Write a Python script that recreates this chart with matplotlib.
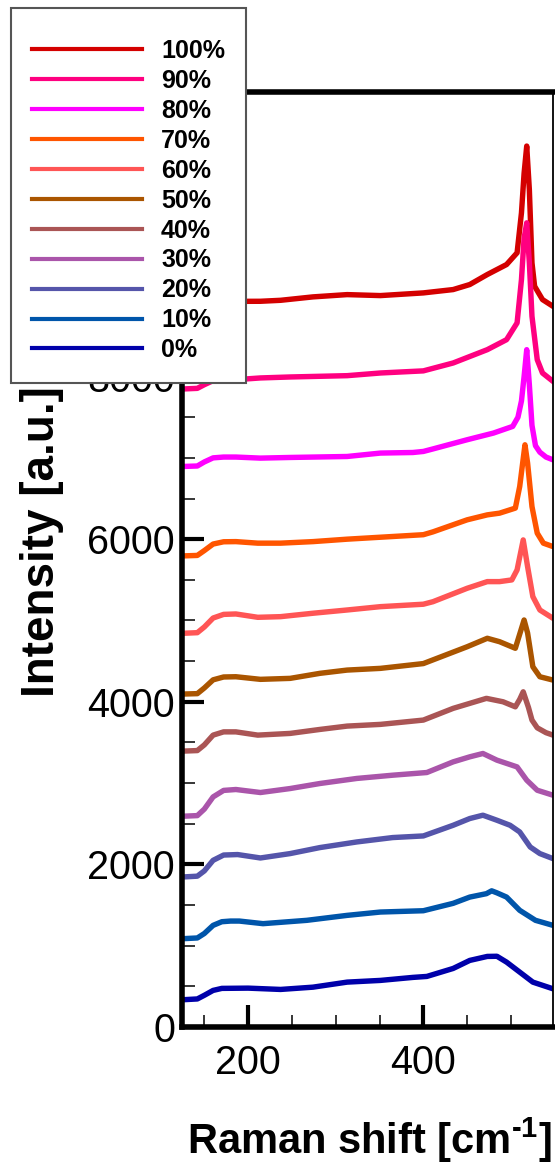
import matplotlib
matplotlib.use("Agg")
import matplotlib.pyplot as plt
from matplotlib.ticker import MultipleLocator

plt.rcParams['font.family'] = ['Liberation Sans', 'DejaVu Sans']
plt.rcParams['mathtext.fontset'] = 'custom'
plt.rcParams['mathtext.rm'] = 'Liberation Sans:bold'
plt.rcParams['mathtext.bf'] = 'Liberation Sans:bold'

labels = ['100%', '90%', '80%', '70%', '60%', '50%', '40%', '30%', '20%', '10%', '0%']
colors = ['#D40000', '#FF0080', '#FF00FF', '#FF5500', '#FF5555', '#AA5500',
          '#AA5555', '#AA55AA', '#5555AA', '#0055AA', '#0000AA']

# spectra (Raman shift in cm-1, intensity in a.u.)
x_100 = [125, 142, 150, 160, 172, 186, 214, 237, 274, 313, 351, 400, 434, 453, 473, 495, 507, 512, 515, 518, 521, 524, 527, 536, 548]
y_100 = [8800, 8810, 8850, 8900, 8920, 8925, 8926, 8938, 8980, 9008, 8996, 9029, 9070, 9132, 9255, 9378, 9522, 10014, 10500, 10835, 10300, 9399, 9111, 8947, 8864]

x_90 = [125, 142, 150, 160, 172, 186, 214, 248, 313, 351, 400, 434, 473, 495, 507, 512, 515, 518, 521, 524, 530, 536, 548]
y_90 = [7847, 7855, 7900, 7950, 7962, 7962, 7983, 7995, 8011, 8044, 8070, 8167, 8331, 8454, 8660, 9193, 9700, 9891, 9400, 8741, 8208, 8044, 7941]

x_80 = [125, 142, 150, 160, 172, 186, 214, 248, 313, 351, 388, 400, 411, 450, 480, 502, 508, 512, 515, 518, 521, 524, 528, 533, 540, 548]
y_80 = [6894, 6900, 6950, 7000, 7010, 7010, 6997, 7005, 7017, 7059, 7066, 7079, 7110, 7223, 7305, 7387, 7500, 7700, 8000, 8331, 7900, 7400, 7150, 7070, 7010, 6976]

x_70 = [125, 142, 150, 160, 172, 186, 211, 237, 274, 313, 351, 400, 411, 450, 473, 487, 505, 510, 516, 519, 524, 530, 537, 548]
y_70 = [5794, 5800, 5860, 5940, 5968, 5970, 5951, 5951, 5970, 6000, 6024, 6055, 6090, 6238, 6299, 6320, 6382, 6648, 7161, 6936, 6401, 6074, 5951, 5909]

x_60 = [125, 142, 150, 160, 172, 186, 211, 237, 274, 313, 351, 400, 411, 450, 473, 487, 501, 507, 514, 519, 525, 533, 548]
y_60 = [4842, 4850, 4920, 5030, 5075, 5080, 5039, 5047, 5089, 5129, 5170, 5200, 5231, 5396, 5478, 5478, 5499, 5622, 5991, 5662, 5293, 5129, 5027]

x_50 = [125, 142, 150, 160, 172, 186, 214, 248, 282, 313, 351, 400, 450, 473, 487, 505, 515, 519, 525, 533, 548]
y_50 = [4095, 4100, 4170, 4270, 4305, 4308, 4276, 4288, 4350, 4390, 4411, 4470, 4677, 4781, 4739, 4658, 5006, 4846, 4431, 4308, 4267]

x_40 = [125, 142, 150, 160, 172, 186, 211, 248, 282, 313, 351, 400, 434, 472, 491, 505, 510, 514, 520, 524, 530, 540, 548]
y_40 = [3393, 3400, 3470, 3590, 3630, 3630, 3590, 3611, 3660, 3701, 3722, 3775, 3919, 4042, 4000, 3938, 4030, 4123, 3930, 3775, 3680, 3620, 3590]

x_30 = [125, 142, 150, 160, 172, 186, 214, 248, 282, 324, 365, 404, 434, 453, 468, 484, 507, 518, 530, 548]
y_30 = [2592, 2600, 2680, 2830, 2910, 2921, 2884, 2933, 2995, 3057, 3097, 3130, 3261, 3323, 3364, 3282, 3199, 3036, 2912, 2851]

x_20 = [125, 142, 150, 160, 172, 188, 214, 248, 282, 324, 365, 400, 434, 453, 468, 484, 499, 510, 522, 533, 548]
y_20 = [1845, 1855, 1920, 2050, 2115, 2121, 2079, 2133, 2207, 2276, 2330, 2350, 2481, 2564, 2605, 2543, 2481, 2399, 2214, 2133, 2071]

x_10 = [125, 142, 150, 160, 170, 180, 190, 217, 267, 313, 351, 400, 434, 453, 472, 478, 484, 495, 510, 528, 548]
y_10 = [1086, 1095, 1150, 1250, 1295, 1303, 1303, 1271, 1312, 1373, 1414, 1430, 1521, 1598, 1640, 1675, 1650, 1598, 1435, 1312, 1250]

x_0 = [125, 142, 150, 160, 170, 200, 237, 274, 313, 351, 388, 404, 434, 453, 473, 484, 495, 510, 525, 548]
y_0 = [335, 345, 390, 450, 475, 478, 462, 490, 552, 573, 610, 622, 720, 819, 868, 870, 798, 675, 552, 470]

xs = [x_100, x_90, x_80, x_70, x_60, x_50, x_40, x_30, x_20, x_10, x_0]
ys = [y_100, y_90, y_80, y_70, y_60, y_50, y_40, y_30, y_20, y_10, y_0]

fig = plt.figure(figsize=(5.55, 11.69), dpi=100)
ax = fig.add_axes([182 / 555, 1 - 1027 / 1169, 371 / 555, 935 / 1169])

for x, y, lab, c in zip(xs, ys, labels, colors):
    ax.plot(x, y, color=c, lw=3.9, label=lab, solid_joinstyle='round')

ax.set_xlim(124.5, 548)
ax.set_ylim(0, 11500)
ax.xaxis.set_major_locator(MultipleLocator(200))
ax.xaxis.set_minor_locator(MultipleLocator(50))
ax.yaxis.set_major_locator(MultipleLocator(2000))
ax.yaxis.set_minor_locator(MultipleLocator(500))
ax.tick_params(which='major', direction='in', length=16, width=3, labelsize=28.5)
ax.tick_params(which='minor', direction='in', length=9, width=1.1)
ax.tick_params(axis='y', which='major', pad=5)
ax.tick_params(axis='x', which='major', pad=12)

for side in ['left', 'bottom', 'top']:
    ax.spines[side].set_linewidth(4)
ax.spines['right'].set_linewidth(1.3)

ax.set_xlabel('Raman shift [cm$^{\\text{-1}}$]', fontsize=30, fontweight='bold')
ax.xaxis.set_label_coords(0.504, -0.121)
ax.xaxis.label.set_va('center')
ax.set_ylabel('Intensity [a.u.]', fontsize=33, fontweight='bold')
ax.yaxis.set_label_coords(-0.377, 0.519)
ax.yaxis.label.set_va('center')

# blank tiny title pushes the rows down, as in the original legend box
leg = fig.legend(loc='upper left', bbox_to_anchor=(11 / 555, 1 - 8 / 1169),
                 bbox_transform=fig.transFigure, borderaxespad=0,
                 prop={'weight': 'bold', 'size': 18}, handlelength=4.4,
                 handletextpad=0.75, labelspacing=0.236, borderpad=0.85,
                 fancybox=False, framealpha=1, title=' ', title_fontsize=3)
leg.get_frame().set_edgecolor('#555555')
leg.get_frame().set_linewidth(1.5)
for h in leg.get_lines():
    h.set_linewidth(3)

fig.savefig('out.png', dpi=100)
